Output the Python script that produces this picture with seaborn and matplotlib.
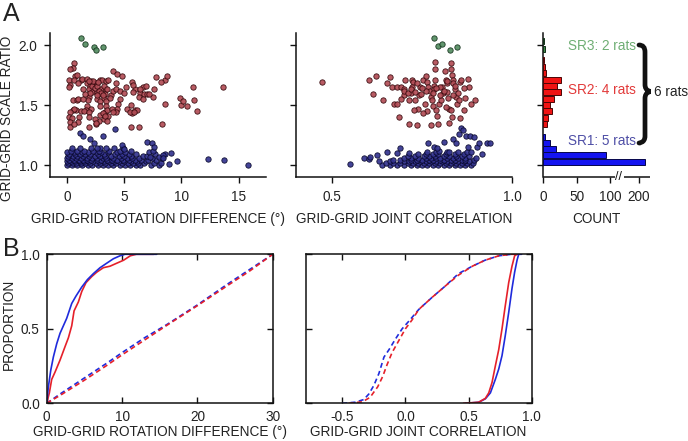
import numpy as np
import pandas as pd
import matplotlib
matplotlib.use("Agg")
import matplotlib.pyplot as plt
import seaborn as sns
from matplotlib.path import Path
from matplotlib.patches import PathPatch

# ---------------- A: rotation difference vs scale ratio ----------------
green_rot = [1.17, 1.52, 2.34, 2.49, 3.10]
green_rot_ratio = [2.06, 2.01, 1.98, 1.96, 1.98]

red_rot = [0.58, 0.47, 0.29, 0.70, 0.88, 0.18, 0.58, 1.20, 1.32, 1.70, 0.23, 0.12, 0.99, 2.05,
           2.16, 1.75, 1.99, 2.51, 2.87, 3.07, 3.39, 3.60, 3.98, 4.33, 4.77, 5.64, 6.64, 6.87,
           7.78, 8.54, 8.71, 8.25, 7.60, 5.96, 6.37, 6.73, 7.54, 1.87, 2.16, 2.57, 2.98, 3.39,
           2.75, 3.33, 3.80, 4.04, 4.27, 4.62, 4.97, 5.15, 5.79, 6.26, 6.61, 6.96, 7.19, 1.93,
           1.81, 2.63, 2.87, 3.22, 3.39, 3.74, 0.53, 0.82, 0.99, 1.40, 4.62, 4.47, 4.33, 4.27,
           0.76, 0.47, 0.58, 1.75, 2.05, 1.64, 2.87, 3.39, 3.27, 3.51, 3.92, 4.04, 1.23, 1.46,
           0.29, 1.93, 2.87, 3.10, 3.57, 2.81, 2.46, 3.22, 5.91, 6.14, 5.67, 5.26, 5.50, 5.85,
           0.18, 0.41, 0.23, 1.05, 0.99, 1.87, 2.51, 3.33, 0.23, 0.64, 1.87, 2.51, 3.51, 5.56,
           6.32, 8.30, 8.60, 9.88, 10.5, 11.1, 11.4, 11.0, 13.6, 10.0, 10.1, 5.56, 4.27, 6.37,
           5.73, 2.2, 2.4, 2.6, 2.8, 3.0, 2.3, 2.7, 3.2, 2.0, 1.9, 2.6, 3.1, 1.6, 1.4, 3.5]
red_rot_ratio = [1.85, 1.81, 1.80, 1.74, 1.75, 1.71, 1.71, 1.71, 1.72, 1.72, 1.67, 1.65, 1.68, 1.70,
                 1.68, 1.68, 1.66, 1.68, 1.71, 1.71, 1.70, 1.71, 1.78, 1.76, 1.74, 1.69, 1.65, 1.66,
                 1.73, 1.71, 1.74, 1.69, 1.63, 1.63, 1.60, 1.59, 1.57, 1.63, 1.61, 1.61, 1.63, 1.63,
                 1.59, 1.59, 1.58, 1.62, 1.63, 1.62, 1.60, 1.65, 1.61, 1.57, 1.55, 1.59, 1.59, 1.57,
                 1.54, 1.55, 1.53, 1.56, 1.53, 1.56, 1.54, 1.54, 1.55, 1.55, 1.55, 1.51, 1.47, 1.44,
                 1.46, 1.46, 1.47, 1.49, 1.47, 1.46, 1.49, 1.49, 1.44, 1.46, 1.47, 1.44, 1.45, 1.45,
                 1.44, 1.44, 1.42, 1.43, 1.41, 1.37, 1.38, 1.38, 1.46, 1.46, 1.43, 1.47, 1.44, 1.44,
                 1.40, 1.39, 1.36, 1.40, 1.36, 1.40, 1.34, 1.41, 1.32, 1.34, 1.32, 1.35, 1.37, 1.32,
                 1.32, 1.34, 1.51, 1.56, 1.49, 1.54, 1.45, 1.65, 1.65, 1.50, 1.53, 1.50, 1.68, 1.63,
                 1.67, 1.66, 1.64, 1.66, 1.62, 1.60, 1.70, 1.69, 1.66, 1.60, 1.70, 1.58, 1.58, 1.59, 1.63, 1.63]

blue_rot_sparse = [1.14, 1.35, 1.99, 2.34, 3.16, 4.21, 2.63, 3.39, 4.80, 4.97, 7.02, 7.43, 7.60,
                   8.07, 9.12, 8.36, 9.59, 8.89, 12.3, 13.7, 15.8, 8.42, 7.25]
blue_rot_sparse_ratio = [1.27, 1.24, 1.22, 1.18, 1.24, 1.30, 1.14, 1.14, 1.17, 1.13, 1.19, 1.18, 1.15,
                         1.07, 1.10, 1.08, 1.03, 1.01, 1.05, 1.04, 1.00, 1.06, 1.07]
# dense band, one row of rotation values per scale-ratio level
blue_rot_levels = [1.00, 1.02, 1.03, 1.045, 1.06, 1.075, 1.09, 1.105, 1.12, 1.14]
blue_rot_rows = [
    [0.0, 0.4, 0.9, 1.3, 1.8, 2.2, 2.7, 3.1, 3.6, 4.0, 4.6, 5.1, 5.5, 6.0, 6.4, 7.3, 8.0],
    [0.1, 0.5, 0.8, 1.2, 1.6, 2.0, 2.5, 2.9, 3.3, 3.8, 4.3, 4.8, 5.3, 5.8, 6.2, 6.7, 7.6, 8.2],
    [0.0, 0.3, 0.7, 1.1, 1.5, 1.9, 2.3, 2.8, 3.2, 3.7, 4.1, 4.5, 5.0, 5.6, 6.1, 6.9],
    [0.2, 0.6, 1.0, 1.4, 1.7, 2.1, 2.6, 3.0, 3.5, 3.9, 4.4, 4.9, 5.4, 5.9, 6.5, 7.1, 7.8],
    [0.0, 0.4, 0.8, 1.2, 1.7, 2.2, 2.6, 3.1, 3.4, 4.0, 4.7, 5.2, 5.7, 6.3, 7.4, 8.3],
    [0.1, 0.5, 0.9, 1.4, 1.9, 2.4, 2.9, 3.3, 3.8, 4.5, 5.0, 5.6, 6.6, 7.0],
    [0.2, 0.7, 1.1, 1.6, 2.0, 2.7, 3.2, 4.2, 4.8, 5.4, 6.0, 7.7, 8.6],
    [0.0, 0.6, 1.3, 1.8, 2.5, 3.0, 3.6, 4.4, 5.1, 7.2],
    [0.3, 0.9, 1.5, 2.3, 2.8, 3.7, 4.6, 5.6, 7.5],
    [0.4, 1.1, 2.1, 2.9, 4.1, 4.9],
]

# ---------------- A: joint correlation vs scale ratio ----------------
green_corr = [0.783, 0.795, 0.804, 0.828, 0.846]
green_corr_ratio = [2.06, 1.99, 2.01, 1.96, 1.98]

red_corr = [0.474, 0.604, 0.623, 0.614, 0.643, 0.654, 0.662, 0.667, 0.682, 0.671, 0.682, 0.686,
            0.693, 0.700, 0.704, 0.713, 0.721, 0.726, 0.730, 0.737, 0.741, 0.743, 0.754, 0.761,
            0.763, 0.767, 0.771, 0.774, 0.778, 0.782, 0.783, 0.785, 0.787, 0.785, 0.791, 0.793,
            0.798, 0.802, 0.806, 0.807, 0.813, 0.817, 0.819, 0.820, 0.822, 0.824, 0.830, 0.831,
            0.833, 0.835, 0.837, 0.841, 0.843, 0.846, 0.850, 0.855, 0.859, 0.865, 0.870, 0.876,
            0.880, 0.885, 0.896, 0.855, 0.833, 0.830, 0.824, 0.776, 0.763, 0.752, 0.739, 0.728,
            0.719, 0.713, 0.699, 0.693, 0.721, 0.735, 0.748, 0.759, 0.780, 0.789, 0.800, 0.815,
            0.837, 0.867, 0.852, 0.70, 0.71, 0.72, 0.76, 0.79, 0.81, 0.80, 0.78, 0.75, 0.73,
            0.84, 0.82]
red_corr_ratio = [1.69, 1.71, 1.74, 1.59, 1.54, 1.68, 1.73, 1.65, 1.65, 1.51, 1.51, 1.40,
                  1.65, 1.63, 1.71, 1.34, 1.71, 1.69, 1.54, 1.33, 1.58, 1.65, 1.71, 1.74,
                  1.69, 1.65, 1.62, 1.57, 1.54, 1.66, 1.63, 1.71, 1.86, 1.80, 1.41, 1.34,
                  1.51, 1.54, 1.65, 1.60, 1.78, 1.71, 1.68, 1.61, 1.56, 1.47, 1.85, 1.80,
                  1.75, 1.71, 1.68, 1.63, 1.57, 1.51, 1.60, 1.69, 1.71, 1.46, 1.56, 1.72,
                  1.65, 1.51, 1.54, 1.39, 1.40, 1.46, 1.35, 1.33, 1.45, 1.43, 1.47, 1.46,
                  1.60, 1.54, 1.58, 1.55, 1.65, 1.68, 1.59, 1.51, 1.49, 1.46, 1.65, 1.48,
                  1.58, 1.64, 1.54, 1.62, 1.60, 1.63, 1.62, 1.64, 1.62, 1.58, 1.60, 1.64, 1.61,
                  1.66, 1.70]

blue_corr_sparse = [0.550, 0.590, 0.603, 0.606, 0.625, 0.652, 0.680, 0.689, 0.713, 0.767, 0.782,
                    0.811, 0.837, 0.852, 0.857, 0.863, 0.872, 0.883, 0.894, 0.902, 0.909, 0.915,
                    0.931, 0.937, 0.844, 0.876, 0.887, 0.826, 0.798, 0.791]
blue_corr_sparse_ratio = [1.01, 1.06, 1.05, 1.07, 1.08, 1.11, 1.10, 1.14, 1.10, 1.18, 1.15,
                          1.19, 1.22, 1.26, 1.31, 1.29, 1.24, 1.24, 1.23, 1.15, 1.18, 1.09,
                          1.18, 1.18, 1.18, 1.15, 1.11, 1.11, 1.12, 1.14]
blue_corr_levels = [1.00, 1.015, 1.03, 1.045, 1.06, 1.075, 1.09, 1.105]
blue_corr_rows = [
    [0.64, 0.66, 0.68, 0.70, 0.72, 0.735, 0.75, 0.765, 0.78, 0.795, 0.81, 0.825, 0.84, 0.855, 0.87, 0.885],
    [0.65, 0.67, 0.69, 0.71, 0.725, 0.74, 0.755, 0.77, 0.785, 0.80, 0.815, 0.83, 0.845, 0.86, 0.875, 0.89],
    [0.63, 0.66, 0.70, 0.715, 0.73, 0.745, 0.76, 0.775, 0.79, 0.805, 0.82, 0.835, 0.85, 0.865, 0.88],
    [0.67, 0.69, 0.72, 0.735, 0.75, 0.77, 0.78, 0.80, 0.81, 0.83, 0.84, 0.86, 0.87, 0.895],
    [0.70, 0.72, 0.74, 0.76, 0.775, 0.79, 0.80, 0.82, 0.835, 0.85, 0.87, 0.90],
    [0.71, 0.73, 0.755, 0.77, 0.785, 0.81, 0.825, 0.845, 0.86, 0.88],
    [0.74, 0.76, 0.78, 0.795, 0.815, 0.84, 0.865],
    [0.765, 0.79, 0.82, 0.85, 0.875],
]

# ---------------- A: count histogram of scale ratio ----------------
hist_ratio = [1.022, 1.08, 1.133, 1.186, 1.236, 1.342, 1.39, 1.447, 1.50, 1.553, 1.606,
              1.658, 1.708, 1.764, 1.82, 1.875, 1.97, 2.03]
hist_count = [222, 94, 19, 10, 3, 5, 7, 13, 10, 16, 27, 20, 26, 4, 2, 1, 3, 1]
hist_group = ["SR1"] * 5 + ["SR2"] * 11 + ["SR3"] * 2

# ---------------- B: cumulative distributions ----------------
rot_blue_x = [0, 0.22, 0.53, 0.88, 1.33, 1.77, 2.21, 2.65, 3.32, 3.89, 4.65, 5.4, 6.19, 7.08,
              7.96, 8.85, 9.73, 10.4, 11.5, 14.6]
rot_blue_p = [0, 0.11, 0.22, 0.31, 0.40, 0.47, 0.52, 0.57, 0.67, 0.72, 0.78, 0.83, 0.87, 0.91,
              0.94, 0.97, 0.99, 1.0, 1.0, 1.0]
rot_red_x = [0, 0.35, 0.66, 1.11, 1.77, 2.43, 2.88, 3.32, 3.63, 4.2, 4.65, 5.22, 5.97, 6.64,
             7.52, 8.4, 9.29, 10.2, 11.1, 11.9, 14.2]
rot_red_p = [0, 0.07, 0.16, 0.21, 0.29, 0.38, 0.44, 0.52, 0.62, 0.68, 0.75, 0.81, 0.85, 0.88,
             0.91, 0.92, 0.94, 0.96, 0.99, 1.0, 1.0]
rot_blue_shuf_x = [0, 2, 5, 8, 10, 13, 16, 20, 24, 27, 30]
rot_blue_shuf_p = [0, 0.07, 0.17, 0.27, 0.34, 0.44, 0.53, 0.66, 0.80, 0.90, 1.0]
rot_red_shuf_x = [0, 2, 5, 8, 10, 13, 16, 20, 24, 27, 30]
rot_red_shuf_p = [0, 0.06, 0.155, 0.255, 0.325, 0.425, 0.525, 0.655, 0.79, 0.89, 1.0]

corr_blue_shuf_x = [-0.5, -0.40, -0.33, -0.29, -0.25, -0.21, -0.17, -0.13, -0.08, -0.026, 0.026,
                    0.106, 0.21, 0.32, 0.42, 0.53, 0.63, 0.74, 0.84, 0.9]
corr_blue_shuf_p = [0, 0.007, 0.025, 0.062, 0.12, 0.2, 0.31, 0.36, 0.43, 0.5, 0.55, 0.63, 0.71,
                    0.79, 0.87, 0.92, 0.96, 0.99, 1.0, 1.0]
corr_red_shuf_x = [-0.45, -0.34, -0.28, -0.22, -0.18, -0.145, -0.106, -0.053, 0, 0.053, 0.106,
                   0.21, 0.32, 0.42, 0.53, 0.63, 0.74, 0.84, 0.9]
corr_red_shuf_p = [0, 0.01, 0.04, 0.11, 0.18, 0.26, 0.34, 0.42, 0.5, 0.56, 0.63, 0.71, 0.79,
                   0.86, 0.92, 0.96, 0.99, 1.0, 1.0]
corr_blue_x = [0.475, 0.58, 0.633, 0.673, 0.712, 0.739, 0.765, 0.79, 0.818, 0.844, 0.865, 0.884,
               0.897, 0.92]
corr_blue_p = [0, 0.007, 0.03, 0.07, 0.16, 0.23, 0.32, 0.45, 0.61, 0.77, 0.88, 0.96, 1.0, 1.0]
corr_red_x = [0.46, 0.58, 0.633, 0.66, 0.686, 0.712, 0.739, 0.765, 0.79, 0.818, 0.844, 0.865,
              0.884]
corr_red_p = [0, 0.007, 0.033, 0.07, 0.14, 0.25, 0.36, 0.5, 0.65, 0.81, 0.92, 0.99, 1.0]

# ---------------- style ----------------
sns.set_theme(style="ticks")
FS = 9.8
plt.rcParams["font.family"] = ["Liberation Sans", "DejaVu Sans"]
plt.rcParams["font.size"] = FS
plt.rcParams["axes.labelsize"] = FS
plt.rcParams["xtick.labelsize"] = FS
plt.rcParams["ytick.labelsize"] = FS
plt.rcParams["axes.unicode_minus"] = False
plt.rcParams["axes.linewidth"] = 1.1
plt.rcParams["axes.edgecolor"] = "#111111"
plt.rcParams["text.color"] = "#222222"
plt.rcParams["axes.labelcolor"] = "#222222"
plt.rcParams["xtick.color"] = "#111111"
plt.rcParams["ytick.color"] = "#111111"
plt.rcParams["xtick.labelcolor"] = "#222222"
plt.rcParams["ytick.labelcolor"] = "#222222"

BLUE_F, BLUE_E = "#34348f", "#07072a"
RED_F, RED_E = "#b24d56", "#34080c"
GREEN_F, GREEN_E = "#538c61", "#12301a"
LINE_BLUE, LINE_RED = "#1f2bdc", "#e5202a"


def expand(levels, rows, name):
    df = pd.DataFrame({"ratio": levels, name: rows}).explode(name)
    df[name] = df[name].astype(float)
    return df


def dots(ax, x, y, face, edge):
    sns.scatterplot(x=x, y=y, ax=ax, color=face, edgecolor=edge, linewidth=0.6,
                    s=15, alpha=0.92, legend=False, zorder=3)


def style_a(ax):
    sns.despine(ax=ax)
    ax.tick_params(direction="out", length=4, width=1.0, pad=5, labelsize=FS)
    ax.set_ylim(0.9, 2.1)
    ax.set_yticks([1.0, 1.5, 2.0])
    ax.set_xlabel("")
    ax.set_ylabel("")


fig = plt.figure(figsize=(6.88, 4.41), dpi=100)
ax1 = fig.add_axes([0.0727, 0.5986, 0.314, 0.3265])
ax2 = fig.add_axes([0.4298, 0.5986, 0.3148, 0.3265])
ax3 = fig.add_axes([0.7897, 0.5986, 0.1555, 0.3265])
bx1 = fig.add_axes([0.0679, 0.0855, 0.3285, 0.3379])
bx2 = fig.add_axes([0.4443, 0.0855, 0.3285, 0.3379])

# A1
dense = expand(blue_rot_levels, blue_rot_rows, "rot")
dots(ax1, dense["rot"], dense["ratio"], BLUE_F, BLUE_E)
dots(ax1, blue_rot_sparse, blue_rot_sparse_ratio, BLUE_F, BLUE_E)
dots(ax1, red_rot, red_rot_ratio, RED_F, RED_E)
dots(ax1, green_rot, green_rot_ratio, GREEN_F, GREEN_E)
style_a(ax1)
ax1.set_xlim(-1.5, 17.4)
ax1.set_xticks([0, 5, 10, 15])
ax1.set_yticklabels(["1.0", "1.5", "2.0"])
ax1.set_xlabel("GRID-GRID ROTATION DIFFERENCE (°)")
ax1.set_ylabel("GRID-GRID SCALE RATIO")
ax1.xaxis.set_label_coords(0.5, -0.245)
ax1.yaxis.set_label_coords(-0.165, 0.41)

# A2
dense = expand(blue_corr_levels, blue_corr_rows, "corr")
dots(ax2, dense["corr"], dense["ratio"], BLUE_F, BLUE_E)
dots(ax2, blue_corr_sparse, blue_corr_sparse_ratio, BLUE_F, BLUE_E)
dots(ax2, red_corr, red_corr_ratio, RED_F, RED_E)
dots(ax2, green_corr, green_corr_ratio, GREEN_F, GREEN_E)
style_a(ax2)
ax2.set_xlim(0.4, 1.0)
ax2.set_xticks([0.5, 1.0])
ax2.set_xticklabels(["0.5", "1.0"])
ax2.set_yticklabels([])
ax2.set_xlabel("GRID-GRID JOINT CORRELATION")
ax2.xaxis.set_label_coords(0.5, -0.245)

# A3 histogram with a broken count axis
def fwd(c):
    c = np.asarray(c, dtype=float)
    return np.where(c <= 100, c, 100 + (c - 100) * 0.425)


def inv(d):
    d = np.asarray(d, dtype=float)
    return np.where(d <= 100, d, 100 + (d - 100) / 0.425)


bar_face = {"SR1": "#1414f0", "SR2": "#f01414", "SR3": "#3f8a4a"}
bar_edge = {"SR1": "#05054a", "SR2": "#4a0505", "SR3": "#123018"}
ax3.set_xscale("function", functions=(fwd, inv))
ax3.barh(hist_ratio, hist_count, height=0.05,
         color=[bar_face[g] for g in hist_group],
         edgecolor=[bar_edge[g] for g in hist_group], linewidth=0.7, zorder=3)
style_a(ax3)
ax3.spines["bottom"].set_visible(False)
ax3.set_xticks([0, 50, 100, 200])
ax3.set_xticklabels(["0", "50", "100", "200"])
ax3.set_yticklabels([])
ax3.plot([0, 117], [0, 0], transform=ax3.get_xaxis_transform(), color="#111111",
         lw=1.1, clip_on=False, solid_capstyle="butt")
ax3.plot([147, 241], [0, 0], transform=ax3.get_xaxis_transform(), color="#111111",
         lw=1.1, clip_on=False, solid_capstyle="butt")
ax3.text(130, 0, "//", transform=ax3.get_xaxis_transform(), ha="center", va="center",
         fontsize=9, color="#111111")
ax3.set_xlim(0, 241)
ax3.set_ylim(0.9, 2.1)
ax3.set_xlabel("COUNT")
ax3.xaxis.set_label_coords(0.5, -0.245)
ax3.text(87, 1.99, "SR3: 2 rats", color="#6fae74", ha="center", va="center", fontsize=FS)
ax3.text(87, 1.625, "SR2: 4 rats", color="#e23a3a", ha="center", va="center", fontsize=FS)
ax3.text(87, 1.20, "SR1: 5 rats", color="#4f4fa6", ha="center", va="center", fontsize=FS)

# curly brace spanning the three groups (figure pixel geometry)
W, H = 688.0, 441.0
x0, xs, xp = 639.0, 645.0, 651.0
yt, ym, yb = 45.0, 91.5, 143.0
k = 7.0
pts = [(x0, yt), (xs, yt), (xs, yt + k),
       (xs, ym - k),
       (xs, ym), (xp, ym), (xp, ym),
       (xp, ym), (xs, ym), (xs, ym + k),
       (xs, yb - k),
       (xs, yb), (x0, yb), (x0, yb)]
codes = [Path.MOVETO, Path.CURVE3, Path.CURVE3, Path.LINETO,
         Path.CURVE4, Path.CURVE4, Path.CURVE4,
         Path.CURVE4, Path.CURVE4, Path.CURVE4,
         Path.LINETO, Path.CURVE4, Path.CURVE4, Path.CURVE4]
brace = Path([(x / W, 1 - y / H) for x, y in pts], codes)
fig.add_artist(PathPatch(brace, transform=fig.transFigure, fill=False, lw=3.4,
                         edgecolor="#111111", capstyle="round"))
fig.text(653.5 / W, 1 - 92 / H, "6 rats", ha="left", va="center", fontsize=FS)

# B panels
def style_b(ax):
    for s in ax.spines.values():
        s.set_visible(True)
    ax.tick_params(direction="in", length=4, width=1.0, top=True, right=True,
                   labelsize=FS, pad=5)
    ax.set_ylim(0, 1)
    ax.set_yticks([0, 0.5, 1.0])
    ax.set_xlabel("")
    ax.set_ylabel("")


dash = (0, (3, 2))
sns.lineplot(x=rot_blue_shuf_x, y=rot_blue_shuf_p, ax=bx1, color=LINE_BLUE, lw=1.2,
             linestyle=dash, sort=False, estimator=None)
sns.lineplot(x=rot_red_shuf_x, y=rot_red_shuf_p, ax=bx1, color=LINE_RED, lw=1.2,
             linestyle=dash, sort=False, estimator=None)
sns.lineplot(x=rot_red_x, y=rot_red_p, ax=bx1, color=LINE_RED, lw=1.2, sort=False, estimator=None)
sns.lineplot(x=rot_blue_x, y=rot_blue_p, ax=bx1, color=LINE_BLUE, lw=1.2, sort=False, estimator=None)
style_b(bx1)
bx1.set_xlim(0, 30)
bx1.set_xticks([0, 10, 20, 30])
bx1.set_yticklabels(["0.0", "0.5", "1.0"])
bx1.set_xlabel("GRID-GRID ROTATION DIFFERENCE (°)")
bx1.set_ylabel("PROPORTION")
bx1.xaxis.set_label_coords(0.5, -0.145)
bx1.yaxis.set_label_coords(-0.135, 0.53)

sns.lineplot(x=corr_blue_shuf_x, y=corr_blue_shuf_p, ax=bx2, color=LINE_BLUE, lw=1.2,
             linestyle=dash, sort=False, estimator=None)
sns.lineplot(x=corr_red_shuf_x, y=corr_red_shuf_p, ax=bx2, color=LINE_RED, lw=1.2,
             linestyle=dash, sort=False, estimator=None)
sns.lineplot(x=corr_blue_x, y=corr_blue_p, ax=bx2, color=LINE_BLUE, lw=1.2, sort=False, estimator=None)
sns.lineplot(x=corr_red_x, y=corr_red_p, ax=bx2, color=LINE_RED, lw=1.2, sort=False, estimator=None)
style_b(bx2)
bx2.set_xlim(-0.79, 1.0)
bx2.set_xticks([-0.5, 0.0, 0.5, 1.0])
bx2.set_xticklabels(["-0.5", "0.0", "0.5", "1.0"])
bx2.set_yticklabels([])
bx2.set_xlabel("GRID-GRID JOINT CORRELATION")
bx2.xaxis.set_label_coords(0.5, -0.145)

fig.text(0.004, 0.995, "A", fontsize=18, va="top", ha="left")
fig.text(0.004, 0.462, "B", fontsize=18, va="top", ha="left")

fig.savefig("out.png", dpi=100)
